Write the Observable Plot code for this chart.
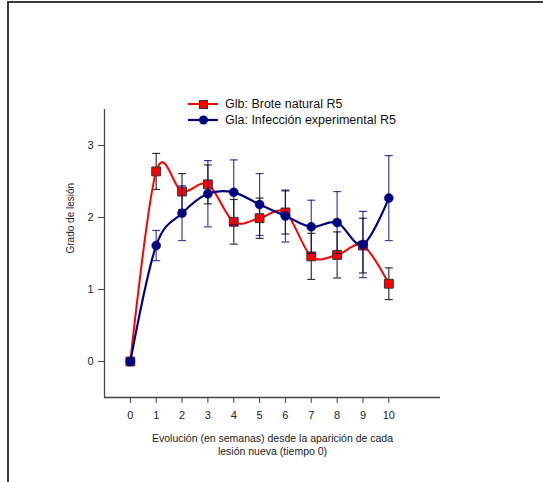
<!DOCTYPE html>
<html>
<head>
<meta charset="utf-8">
<script src="https://cdn.jsdelivr.net/npm/d3@7"></script>
<script src="https://cdn.jsdelivr.net/npm/@observablehq/plot@0.6"></script>
<style>
  html, body { margin: 0; padding: 0; background: #fff; }
  #wrap { position: relative; width: 543px; height: 482px; overflow: hidden; font-family: "Liberation Sans", Arial, sans-serif; }
  #border { position: absolute; left: 7px; top: 1px; right: -10px; bottom: -10px; border-top: 2px solid #3a3a3a; border-left: 2px solid #3a3a3a; }
  #legend { position: absolute; left: 188px; top: 96px; font-size: 12.5px; color: #111; }
  .row { display: flex; align-items: center; height: 16px; }
  .row svg { margin-right: 7px; }
</style>
</head>
<body>
<div id="wrap"><div id="chart"></div><div id="border"></div><div id="legend"></div></div>
<script>
const weeks = [0, 1, 2, 3, 4, 5, 6, 7, 8, 9, 10];
const glb = [0, 2.64, 2.36, 2.46, 1.94, 1.99, 2.07, 1.46, 1.48, 1.61, 1.08];
const glbErr = [0, 0.25, 0.25, 0.27, 0.31, 0.28, 0.30, 0.32, 0.32, 0.38, 0.22];
const gla = [0, 1.61, 2.06, 2.33, 2.35, 2.18, 2.02, 1.87, 1.93, 1.625, 2.27];
const glaErr = [0, 0.21, 0.38, 0.46, 0.45, 0.43, 0.36, 0.37, 0.43, 0.46, 0.59];
const seriesNames = ["Glb: Brote natural R5", "Gla: Infección experimental R5"];
const xTicks = [0, 1, 2, 3, 4, 5, 6, 7, 8, 9, 10];
const yTicks = [0, 1, 2, 3];
const xDomain = [-1, 12];
const yDomain = [-0.5, 3.5];
const yTitle = "Grado de lesión";
const xTitle = "Evolución (en semanas) desde la aparición de cada\nlesión nueva (tiempo 0)";

const redData = weeks.map((w, i) => ({x: w, y: glb[i], e: glbErr[i]}));
const blueData = weeks.map((w, i) => ({x: w, y: gla[i], e: glaErr[i]}));
const redErr = redData.filter(d => d.e > 0);
const blueErr = blueData.filter(d => d.e > 0);

const cap = {draw(ctx, size) { const w = Math.sqrt(size / Math.PI); ctx.moveTo(-w, 0); ctx.lineTo(w, 0); }};

function errMarks(data, color, opacity) {
  return [
    Plot.ruleX(data, {x: "x", y1: d => d.y - d.e, y2: d => d.y + d.e, stroke: color, strokeWidth: 1.2, strokeOpacity: opacity}),
    Plot.dot(data, {x: "x", y: d => d.y + d.e, symbol: cap, r: 4, stroke: color, strokeWidth: 1.2, strokeOpacity: opacity}),
    Plot.dot(data, {x: "x", y: d => d.y - d.e, symbol: cap, r: 4, stroke: color, strokeWidth: 1.2, strokeOpacity: opacity})
  ];
}

const chart = Plot.plot({
  width: 543,
  height: 482,
  marginLeft: 104,
  marginRight: 103,
  marginTop: 109,
  marginBottom: 85,
  style: {fontFamily: "'Liberation Sans', Arial, sans-serif", fontSize: "11px", color: "#222", background: "transparent"},
  x: {domain: xDomain},
  y: {domain: yDomain},
  marks: [
    Plot.axisY(yTicks, {tickSize: 6, tickPadding: 5, tickFormat: d3.format("d"), label: null, stroke: "#444", fontSize: 11}),
    Plot.axisX(xTicks, {tickSize: 6, tickPadding: 8, tickFormat: d3.format("d"), label: null, stroke: "#444", fontSize: 11}),
    Plot.ruleX([xDomain[0]], {stroke: "#444", strokeWidth: 1.3}),
    Plot.ruleY([yDomain[0]], {stroke: "#444", strokeWidth: 1.3}),
    Plot.text([yTitle], {frameAnchor: "left", rotate: -90, dx: -34, fontSize: 10, fill: "#222"}),
    Plot.text([xTitle], {frameAnchor: "bottom", dy: 35, lineHeight: 1.25, fontSize: 10.5, fill: "#222", lineAnchor: "top"}),
    ...errMarks(redErr, "#111", 0.85),
    Plot.line(redData, {x: "x", y: "y", curve: "cardinal", stroke: "#ff0000", strokeWidth: 2}),
    Plot.dot(redData, {x: "x", y: "y", symbol: "square", r: 5, fill: "#ff0000", stroke: "#333", strokeWidth: 1}),
    ...errMarks(blueErr, "#000080", 0.75),
    Plot.line(blueData, {x: "x", y: "y", curve: "cardinal", stroke: "#000080", strokeWidth: 2.2}),
    Plot.dot(blueData, {x: "x", y: "y", symbol: "circle", r: 4.5, fill: "#000080", stroke: "#000080", strokeWidth: 0.5})
  ]
});
document.getElementById("chart").appendChild(chart);

const legend = document.getElementById("legend");
const legendSym = [
  `<svg width="30" height="12"><line x1="0" y1="6" x2="30" y2="6" stroke="#ff0000" stroke-width="2"/><rect x="11.5" y="2.5" width="8" height="8" fill="#ff0000" stroke="#333" stroke-width="1"/></svg>`,
  `<svg width="30" height="12"><line x1="0" y1="6" x2="30" y2="6" stroke="#000080" stroke-width="2.2"/><circle cx="15.5" cy="6" r="4.5" fill="#000080"/></svg>`
];
seriesNames.forEach((name, i) => {
  const row = document.createElement("div");
  row.className = "row";
  row.innerHTML = legendSym[i] + `<span>${name}</span>`;
  legend.appendChild(row);
});
</script>
</body>
</html>
